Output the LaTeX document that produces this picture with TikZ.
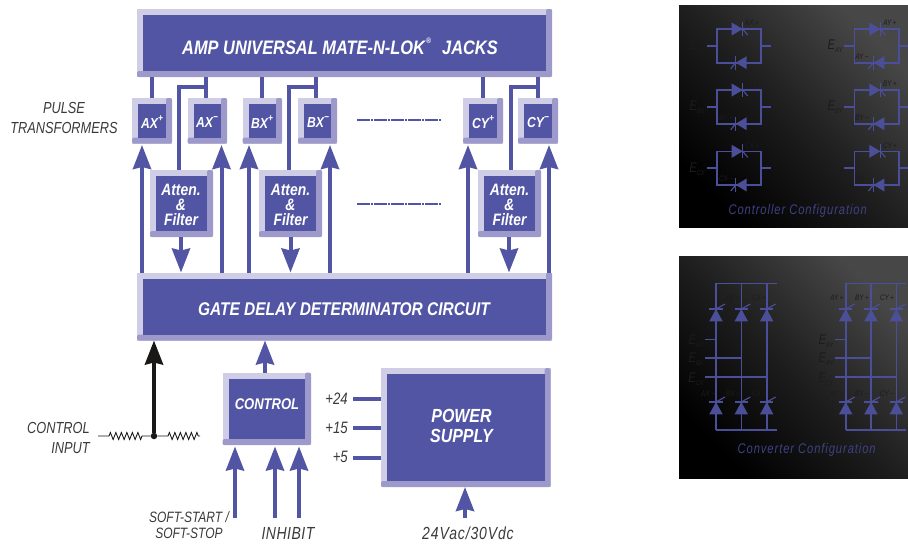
\documentclass[tikz,border=0pt]{standalone}
\usepackage{fontspec}
\setmainfont[FakeStretch=.8]{Liberation Sans}
\newfontfamily\wfont[FakeStretch=.84]{Liberation Sans}
\usetikzlibrary{arrows.meta,decorations.pathmorphing}
\definecolor{main}{HTML}{5255A4}
\definecolor{lite}{HTML}{D0CEE6}
\definecolor{deep}{HTML}{9D9ACB}
\definecolor{ink}{HTML}{3A3A3A}
\definecolor{blk}{HTML}{1A1717}
\definecolor{pan}{HTML}{4B4E98}
\definecolor{ghost}{HTML}{1C1C1C}
\definecolor{cap}{HTML}{3F4184}
\newcommand{\fsz}[1]{\fontsize{#1}{#1}\selectfont}
\tikzset{
  frameo/.style={fill=lite,draw=none,inner sep=0pt,outer sep=0pt},
  innerb/.style={fill=main,draw=none,inner sep=0pt,outer sep=0pt},
  wtext/.style={text=white,font=\wfont\fsz{#1}\bfseries\itshape,align=center,inner sep=0pt},
  lbl/.style={text=ink,font=\fsz{#1}\itshape,inner sep=0pt},
  conn/.style={draw=main,line width=4pt},
  arr/.style={draw=main,line width=4pt,-{Stealth[width=18pt,length=24pt,inset=2pt]}},
  blkarr/.style={draw=blk,line width=4pt,-{Stealth[width=18pt,length=24pt,inset=2pt]}},
  wire/.style={draw=blk,line width=.9pt},
  zig/.style={decoration={zigzag,segment length=5.5pt,amplitude=3.5pt}},
  ddash/.style={draw=main,line width=2pt,dash pattern=on 13pt off 1pt on 2pt off 1pt},
  pline/.style={draw=pan,line width=1.6pt},
  ghostt/.style={text=ghost,font=\fsz{#1}\itshape,inner sep=0pt},
  capt/.style={text=cap,font=\fsz{14}\itshape,inner sep=0pt},
  panel/.style={shading=axis,top color=black!72,bottom color=black,middle color=black!88,shading angle=-45,draw=none},
}
% name, x1,y1,x2,y2, frame width, text
\newcommand{\dbox}[7]{%
  \pgfmathsetmacro\cxx{(#2+#4)/2}\pgfmathsetmacro\cyy{(#3+#5)/2}%
  \pgfmathsetmacro\www{#4-#2}\pgfmathsetmacro\hhh{#5-#3}%
  \node[frameo,minimum width=\www pt,minimum height=\hhh pt] (#1) at (\cxx,\cyy) {};
  \fill[deep,rounded corners=1.5pt] (#2,#5) -- (#2,#5-#6) -- (#4-#6,#5-#6) -- (#4-#6,#3) -- (#4,#3) -- (#4,#5) -- cycle;
  \pgfmathsetmacro\wwi{\www-2*#6}\pgfmathsetmacro\hhi{\hhh-2*#6}%
  \node[innerb,minimum width=\wwi pt,minimum height=\hhi pt] (#1-in) at (\cxx,\cyy) {};
  #7
}
% thyristor, horizontal: tipx, y, dir (+1 points right)
\newcommand{\thyh}[3]{%
  \fill[pan] (#1,#2) -- (#1-#3*11,#2-6.5) -- (#1-#3*11,#2+6.5) -- cycle;
  \draw[pan,line width=1.4pt] (#1,#2-7) -- (#1,#2+7);
  \draw[pan,line width=1.1pt] (#1,#2) -- (#1+#3*5,#2+6);
}
% thyristor, vertical pointing up: x, bar y
\newcommand{\thyv}[2]{%
  \fill[pan] (#1,#2) -- (#1-6.7,#2+12.3) -- (#1+6.7,#2+12.3) -- cycle;
  \draw[pan,line width=1.4pt] (#1-6.7,#2) -- (#1+6.7,#2);
  \draw[pan,line width=1.1pt] (#1,#2) -- (#1+9,#2-5);
}
% anti-parallel pair: left x, mid y
\newcommand{\apair}[2]{%
  \draw[pline] (#1+44.3,#2-16.7) -- (#1,#2-16.7) -- (#1,#2+17) -- (#1+44.3,#2+17) -- cycle;
  \draw[pline] (#1-10,#2) -- (#1,#2) (#1+44.3,#2) -- (#1+54,#2);
  \thyh{#1+26}{#2-16.7}{1}
  \thyh{#1+19}{#2+17}{-1}
}
% converter: x1, x2, x3, left stub x, right end
\newcommand{\conv}[5]{%
  \draw[pline] (#1,283.3) -- (#5,283.3) (#1,430) -- (#5,430);
  \draw[pline] (#1,283.3) -- (#1,430) (#2,283.3) -- (#2,430) (#3,283.3) -- (#3,430);
  \draw[pline] (#4,339.3) -- (#1,339.3) (#4,358) -- (#2,358) (#4,377) -- (#3,377);
  \foreach \xx in {#1,#2,#3} {\thyv{\xx}{309}\thyv{\xx}{402}}
}
\begin{document}
\begin{tikzpicture}[x=1pt,y=-1pt]
\useasboundingbox (0,0) rectangle (908,544);

\dbox{amp}{137}{9}{552}{77}{6}{\node[wtext=19.5] at (340,46) {AMP UNIVERSAL MATE-N-LOK\raisebox{.55em}{\fsz{8}\,®}\,\, JACKS};}
\dbox{gate}{137}{272.5}{552}{340.5}{6}{\node[wtext=18.4] at (344,309) {GATE DELAY DETERMINATOR CIRCUIT};}

\dbox{axp}{132}{98}{172}{143.5}{6}{\node[wtext=14.5] at (152,122) {AX\raisebox{.45em}{\fsz{10}+}};}
\dbox{axm}{187.5}{98}{227}{143.5}{6}{\node[wtext=14.5] at (207,122) {AX\raisebox{.45em}{\fsz{10}−}};}
\dbox{bxp}{242.5}{98}{282}{143.5}{6}{\node[wtext=14.5] at (262,122) {BX\raisebox{.45em}{\fsz{10}+}};}
\dbox{bxm}{298}{98}{337}{143.5}{6}{\node[wtext=14.5] at (318,122) {BX\raisebox{.45em}{\fsz{10}−}};}
\dbox{cyp}{463}{98}{503}{143.5}{6}{\node[wtext=14.5] at (483,122) {CY\raisebox{.45em}{\fsz{10}+}};}
\dbox{cym}{518}{98}{558}{143.5}{6}{\node[wtext=14.5] at (538,122) {CY\raisebox{.45em}{\fsz{10}−}};}

\dbox{fa}{150}{170}{213}{237}{6}{\node[wtext=16.5] at (181,204.5) {Atten.\\[-1.5pt]\&\\[-1.5pt]Filter};}
\dbox{fb}{259}{170}{322}{237}{6}{\node[wtext=16.5] at (290.5,204.5) {Atten.\\[-1.5pt]\&\\[-1.5pt]Filter};}
\dbox{fc}{478}{170}{541}{237}{6}{\node[wtext=16.5] at (509.5,204.5) {Atten.\\[-1.5pt]\&\\[-1.5pt]Filter};}

\dbox{ctl}{222.5}{372.5}{311}{445}{6}{\node[wtext=15.5] at (267,404) {CONTROL};}
\dbox{psu}{381}{368}{550.5}{487}{6}{\node[wtext=19] at (461.5,426) {POWER\\[1pt]SUPPLY};}

% amp to transformers
\draw[conn] (152,0 |- amp.south) -- (152,0 |- axp.north);
\draw[conn] (206,0 |- amp.south) -- (206,0 |- axm.north);
\draw[conn] (206,87) -- (178.5,87) -- (178.5,0 |- fa.north);
\draw[conn] (262,0 |- amp.south) -- (262,0 |- bxp.north);
\draw[conn] (316,0 |- amp.south) -- (316,0 |- bxm.north);
\draw[conn] (316,87) -- (289,87) -- (289,0 |- fb.north);
\draw[conn] (483,0 |- amp.south) -- (483,0 |- cyp.north);
\draw[conn] (538,0 |- amp.south) -- (538,0 |- cym.north);
\draw[conn] (538,87) -- (511,87) -- (511,0 |- fc.north);

% up arrows from gate block
\draw[arr,shorten >=1.5pt] (142,0 |- gate.north) -- (142,0 |- axp.south);
\draw[arr,shorten >=1.5pt] (221.5,0 |- gate.north) -- (221.5,0 |- axm.south);
\draw[arr,shorten >=1.5pt] (249,0 |- gate.north) -- (249,0 |- bxp.south);
\draw[arr,shorten >=1.5pt] (330,0 |- gate.north) -- (330,0 |- bxm.south);
\draw[arr,shorten >=1.5pt] (468,0 |- gate.north) -- (468,0 |- cyp.south);
\draw[arr,shorten >=1.5pt] (549,0 |- gate.north) -- (549,0 |- cym.south);
% down arrows
\draw[arr] (181,0 |- fa.south) -- (181,0 |- gate.north);
\draw[arr] (290.5,0 |- fb.south) -- (290.5,0 |- gate.north);
\draw[arr] (509,0 |- fc.south) -- (509,0 |- gate.north);

% dashed continuation
\coordinate (da1) at (357,120); \coordinate (da2) at (441,120);
\coordinate (db1) at (357,204); \coordinate (db2) at (441,204);
\draw[ddash] (da1) -- (da2);
\draw[ddash] (db1) -- (db2);

% control input
\node[fill=blk,circle,inner sep=0pt,minimum size=6.5pt] (cin) at (154,436) {};
\coordinate (wl) at (98,436); \coordinate (wr) at (200,436);
\draw[wire] (wl) -- ++(11,0) decorate[zig]{ -- ++(34,0)} -- (cin);
\draw[wire] (cin) -- ++(14,0) decorate[zig]{ -- (wr)};
\draw[blkarr] (cin) -- (154,0 |- gate.south);

% control to gate
\draw[arr] (265,0 |- ctl.north) -- (265,0 |- gate.south);
% inputs to control
\coordinate (i1) at (235,518); \coordinate (i2) at (275,518); \coordinate (i3) at (299,518);
\draw[arr,shorten >=1.5pt] (i1) -- (i1 |- ctl.south);
\draw[arr,shorten >=1.5pt] (i2) -- (i2 |- ctl.south);
\draw[arr,shorten >=1.5pt] (i3) -- (i3 |- ctl.south);
% power
\coordinate (p1) at (353,399); \coordinate (p2) at (353,428); \coordinate (p3) at (353,458);
\draw[conn] (p1) -- (p1 -| psu.west);
\draw[conn] (p2) -- (p2 -| psu.west);
\draw[conn] (p3) -- (p3 -| psu.west);
\coordinate (ac) at (465,518);
\draw[arr] (ac) -- (ac |- psu.south);

% labels
\node[lbl=16,align=center] at (64,118) {PULSE\\[4pt]TRANSFORMERS};
\node[lbl=16,align=right,anchor=east] at (90,438) {CONTROL\\[4pt]INPUT};
\node[lbl=15,align=center] at (189,525) {SOFT-START /\\[1pt]SOFT-STOP};
\node[lbl=17.5] at (288,533) {\addfontfeature{LetterSpace=3}INHIBIT};
\node[lbl=16.5,anchor=east] at (348,399) {+24};
\node[lbl=16.5,anchor=east] at (348,428) {+15};
\node[lbl=16.5,anchor=east] at (348,457) {+5};
\node[lbl=17.5] at (468,533) {\addfontfeature{LetterSpace=5}24Vac/30Vdc};

% right panels
\begin{scope}
\clip (679,5) rectangle (908,227);
\begin{scope}[yscale=-1]
\fill[panel] (679,-5) rectangle (908,-227);
\end{scope}
\foreach \yy in {45.7,106.7,168} {\apair{716.7}{\yy}\apair{854.4}{\yy}}
\foreach \t/\xx/\yy in {AX\,+/752/23,AY\,+/890/23,AY\,−/862/57,BY\,+/890/84,BY\,−/862/118,BX\,−/726/118,BX\,+/752/84,CY\,+/890/146,CY\,−/862/179,CX\,+/752/146,CX\,−/726/179,AX\,−/726/57}
  {\node[ghostt=8] at (\xx,\yy) {\t};}
\foreach \t/\yy/\xx in {AX/46/697,BX/107/697,CX/169/697,AY/46/835,BY/107/835,CY/169/835}
  {\node[ghostt=14] at (\xx,\yy) {E\raisebox{-.2em}{\fsz{7}\t}};}
\node[capt] at (797.7,211) {\addfontfeature{LetterSpace=6.5}Controller Configuration};
\end{scope}
\begin{scope}
\clip (679,256) rectangle (908,478);
\begin{scope}[yscale=-1]
\fill[panel] (679,-256) rectangle (908,-478);
\end{scope}
\conv{716}{741.3}{766.7}{705}{776.7}
\conv{845.7}{871}{896.3}{835}{906}
\foreach \t/\xx in {AX/708,BX/733,CX/759,AY/837,BY/862,CY/887}
  {\node[ghostt=8] at (\xx,298) {\t\,+};\node[ghostt=8] at (\xx,394) {\t\,−};}
\foreach \t/\yy/\xx in {AX/341/696,BX/359/696,CX/379/696,AY/341/826,BY/359/826,CY/379/826}
  {\node[ghostt=14] at (\xx,\yy) {E\raisebox{-.2em}{\fsz{7}\t}};}
\node[capt] at (806.7,450) {\addfontfeature{LetterSpace=6.5}Converter Configuration};
\end{scope}
\end{tikzpicture}
\end{document}
